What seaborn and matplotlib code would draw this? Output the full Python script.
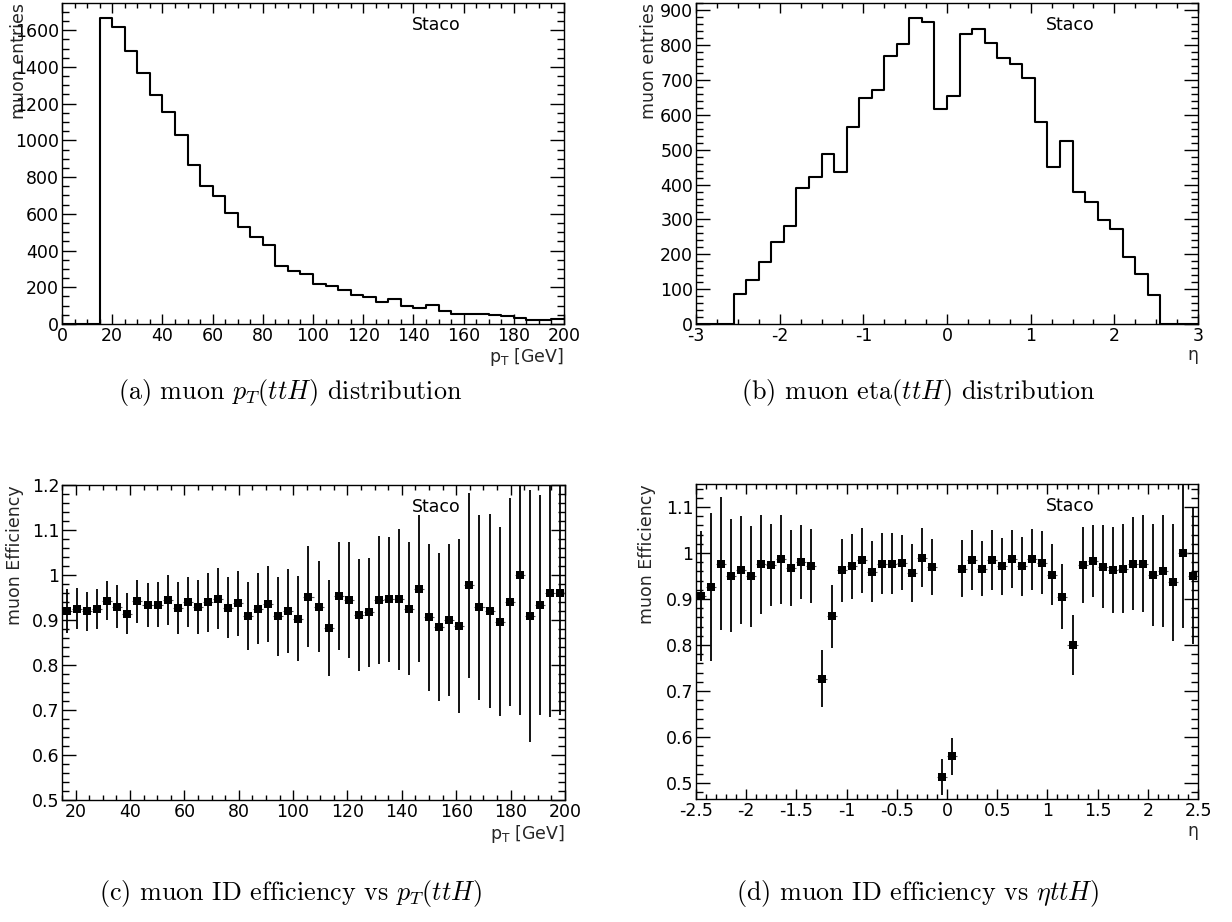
import numpy as np
import pandas as pd
import matplotlib
matplotlib.use("Agg")
import matplotlib.pyplot as plt
from matplotlib.ticker import MultipleLocator, FuncFormatter
import seaborn as sns

# ---------------------------------------------------------------- data
# muon pT spectrum: 5 GeV bins between 0 and 200 GeV
pt_lo, pt_hi, pt_width = 0.0, 200.0, 5.0
pt_counts = [0, 0, 0, 1665, 1620, 1487, 1366, 1246, 1156, 1030,
             867, 753, 698, 604, 526, 473, 428, 317, 290, 274,
             218, 209, 183, 156, 145, 120, 138, 98, 87, 102,
             69, 56, 56, 54, 49, 42, 33, 24, 20, 29]

# muon eta spectrum: 0.15 bins between -3 and 3
eta_lo, eta_hi, eta_width = -3.0, 3.0, 0.15
eta_counts = [0, 0, 0, 87, 125, 179, 235, 282, 389, 422,
              489, 437, 564, 649, 672, 770, 803, 877, 865, 617,
              653, 831, 845, 807, 764, 745, 707, 579, 450, 524,
              379, 351, 297, 273, 191, 144, 83, 0, 0, 0]

# identification efficiency vs pT: 50 bins between 15 and 200 GeV
eff_pt_lo, eff_pt_hi = 15.0, 200.0
eff_pt = [0.921, 0.925, 0.919, 0.924, 0.943, 0.930, 0.914, 0.942, 0.933, 0.934,
          0.945, 0.927, 0.940, 0.929, 0.939, 0.947, 0.927, 0.937, 0.909, 0.925,
          0.936, 0.908, 0.920, 0.903, 0.952, 0.930, 0.882, 0.953, 0.945, 0.911,
          0.917, 0.944, 0.946, 0.946, 0.925, 0.970, 0.906, 0.885, 0.900, 0.887,
          0.977, 0.928, 0.920, 0.896, 0.940, 0.999, 0.908, 0.933, 0.959, 0.959]
eff_pt_err = [0.049, 0.046, 0.043, 0.045, 0.044, 0.047, 0.045, 0.048, 0.049, 0.050,
              0.055, 0.058, 0.056, 0.060, 0.065, 0.068, 0.068, 0.073, 0.076, 0.079,
              0.084, 0.088, 0.093, 0.094, 0.112, 0.101, 0.107, 0.120, 0.129, 0.124,
              0.121, 0.142, 0.139, 0.156, 0.148, 0.164, 0.163, 0.165, 0.168, 0.193,
              0.205, 0.206, 0.215, 0.210, 0.232, 0.310, 0.280, 0.245, 0.275, 0.270]

# identification efficiency vs eta: 50 bins between -2.5 and 2.5
eff_eta_lo, eff_eta_hi = -2.5, 2.5
eff_eta = [0.907, 0.926, 0.977, 0.951, 0.963, 0.949, 0.975, 0.974, 0.986, 0.968,
           0.980, 0.972, 0.727, 0.862, 0.962, 0.971, 0.984, 0.959, 0.977, 0.977,
           0.979, 0.956, 0.990, 0.969, 0.512, 0.558, 0.966, 0.984, 0.966, 0.985,
           0.971, 0.987, 0.971, 0.986, 0.979, 0.953, 0.905, 0.800, 0.974, 0.982,
           0.970, 0.963, 0.966, 0.977, 0.977, 0.953, 0.960, 0.936, 1.000, 0.951]
eff_eta_err = [0.141, 0.160, 0.145, 0.123, 0.117, 0.109, 0.108, 0.090, 0.096, 0.083,
               0.080, 0.081, 0.063, 0.069, 0.069, 0.071, 0.071, 0.066, 0.066, 0.066,
               0.060, 0.063, 0.064, 0.061, 0.039, 0.040, 0.062, 0.065, 0.060, 0.065,
               0.062, 0.064, 0.064, 0.066, 0.068, 0.067, 0.070, 0.065, 0.082, 0.078,
               0.090, 0.093, 0.096, 0.102, 0.105, 0.111, 0.122, 0.128, 0.164, 0.150]

label_text = "Staco"
pt_title = r"$\mathregular{p_T}$ [GeV]"
eta_title = "η"
captions = [r"(a) muon $p_T(ttH)$ distribution",
            r"(b) muon eta$(ttH)$ distribution",
            r"(c) muon ID efficiency vs $p_T(ttH)$",
            r"(d) muon ID efficiency vs $\eta ttH)$"]

# ---------------------------------------------------------------- style
sns.set_style("ticks")
plt.rcParams["font.family"] = ["DejaVu Sans"]
plt.rcParams["mathtext.fontset"] = "dejavusans"
plt.rcParams["axes.unicode_minus"] = False

W, H = 1232, 922
fig = plt.figure(figsize=(W / 100, H / 100), dpi=100)
fig.patch.set_facecolor("white")


def px_axes(x0, y0, x1, y1):
    """Axes from pixel corners (top-left origin)."""
    return fig.add_axes([x0 / W, 1 - y1 / H, (x1 - x0) / W, (y1 - y0) / H])


def g_fmt(v, _pos):
    v = round(v, 6)
    if abs(v) < 1e-9:
        v = 0.0
    return f"{v:g}"


FS = 12.5


def style_axes(ax, xmaj, xmin, ymaj, ymin):
    ax.set_facecolor("white")
    for sp in ax.spines.values():
        sp.set_visible(True)
        sp.set_linewidth(1.0)
        sp.set_color("black")
    ax.xaxis.set_major_locator(MultipleLocator(xmaj))
    ax.xaxis.set_minor_locator(MultipleLocator(xmin))
    ax.yaxis.set_major_locator(MultipleLocator(ymaj))
    ax.yaxis.set_minor_locator(MultipleLocator(ymin))
    ax.xaxis.set_major_formatter(FuncFormatter(g_fmt))
    ax.yaxis.set_major_formatter(FuncFormatter(g_fmt))
    ax.tick_params(axis="both", which="both", direction="in",
                   top=True, right=True, color="black", width=1.0,
                   labelsize=FS, labelcolor="black")
    ax.tick_params(axis="x", which="major", length=7, pad=2)
    ax.tick_params(axis="x", which="minor", length=3.5)
    ax.tick_params(axis="y", which="major", length=10, pad=2)
    ax.tick_params(axis="y", which="minor", length=5)
    ax.grid(False)


def staco(ax):
    ax.text(0.745, 0.93, label_text, transform=ax.transAxes,
            ha="center", va="center", fontsize=FS, color="black")


def set_labels(ax, xlabel, ylabel, ylab_x, xlab_y):
    ax.set_xlabel(xlabel, loc="right", fontsize=FS)
    ax.set_ylabel(ylabel, loc="top", fontsize=FS)
    ax.yaxis.set_label_coords(ylab_x, 1.0)
    ax.xaxis.set_label_coords(1.0, xlab_y)


# ---------------------------------------------------------------- (a) pT
ax_a = px_axes(62, 3, 564, 324)
pt_edges = list(np.arange(pt_lo, pt_hi + pt_width / 2, pt_width))
df_pt = pd.DataFrame({"pt": np.array(pt_edges[:-1]) + pt_width / 2, "n": pt_counts})
sns.histplot(data=df_pt, x="pt", weights="n", bins=pt_edges, element="step",
             fill=False, color="black", linewidth=1.5, ax=ax_a)
ax_a.set_xlim(pt_lo, pt_hi)
ax_a.set_ylim(0, 1.05 * max(pt_counts))
style_axes(ax_a, 20, 5, 200, 50)
set_labels(ax_a, pt_title, "muon entries", -0.068, -0.07)
staco(ax_a)

# ---------------------------------------------------------------- (b) eta
ax_b = px_axes(696, 3, 1198, 324)
eta_edges = list(np.linspace(eta_lo, eta_hi, len(eta_counts) + 1))
df_eta = pd.DataFrame({"eta": np.array(eta_edges[:-1]) + eta_width / 2, "n": eta_counts})
sns.histplot(data=df_eta, x="eta", weights="n", bins=eta_edges, element="step",
             fill=False, color="black", linewidth=1.5, ax=ax_b)
ax_b.set_xlim(eta_lo, eta_hi)
ax_b.set_ylim(0, 1.05 * max(eta_counts))
style_axes(ax_b, 1, 0.25, 100, 20)
set_labels(ax_b, eta_title, "muon entries", -0.076, -0.07)
staco(ax_b)


# ---------------------------------------------------------------- efficiencies
def eff_panel(ax, lo, hi, vals, errs):
    n = len(vals)
    edges = np.linspace(lo, hi, n + 1)
    half = (edges[1] - edges[0]) / 2
    df = pd.DataFrame({"x": edges[:-1] + half, "eff": vals, "err": errs})
    ax.errorbar(df["x"], df["eff"], yerr=df["err"], fmt="none",
                ecolor="black", elinewidth=1.3, capsize=0, zorder=2)
    ax.errorbar(df["x"], df["eff"], xerr=half, fmt="none",
                ecolor="#555555", elinewidth=0.8, capsize=0, zorder=2)
    sns.scatterplot(data=df, x="x", y="eff", marker="s", s=26, color="black",
                    linewidth=0, ax=ax, zorder=3)
    ax.set_xlim(lo, hi)


ax_c = px_axes(62, 485, 565, 800)
eff_panel(ax_c, eff_pt_lo, eff_pt_hi, eff_pt, eff_pt_err)
ax_c.set_ylim(0.5, 1.2)
style_axes(ax_c, 20, 5, 0.1, 0.02)
set_labels(ax_c, pt_title, "muon Efficiency", -0.0755, -0.072)
staco(ax_c)

ax_d = px_axes(696, 484, 1198, 799)
eff_panel(ax_d, eff_eta_lo, eff_eta_hi, eff_eta, eff_eta_err)
ax_d.set_ylim(0.465, 1.15)
style_axes(ax_d, 0.5, 0.1, 0.1, 0.02)
set_labels(ax_d, eta_title, "muon Efficiency", -0.08, -0.072)
staco(ax_d)

# ---------------------------------------------------------------- captions
cap_pos = [(290, 392), (918, 392), (290, 893), (918, 893)]
cap_texts = []
for txt, (cx, cy) in zip(captions, cap_pos):
    t = fig.text(cx / W, 1 - cy / H, txt, ha="center", va="center",
                 fontsize=14.5, family="cmr10", color="black")
    t.set_math_fontfamily("cm")
    cap_texts.append(t)

# size the caption font so that caption (a) spans about 345 px
fig.canvas.draw()
renderer = fig.canvas.get_renderer()
w0 = cap_texts[0].get_window_extent(renderer).width
for t in cap_texts:
    t.set_fontsize(14.5 * 345.0 / w0)

fig.savefig("out.png", dpi=100, facecolor="white")
